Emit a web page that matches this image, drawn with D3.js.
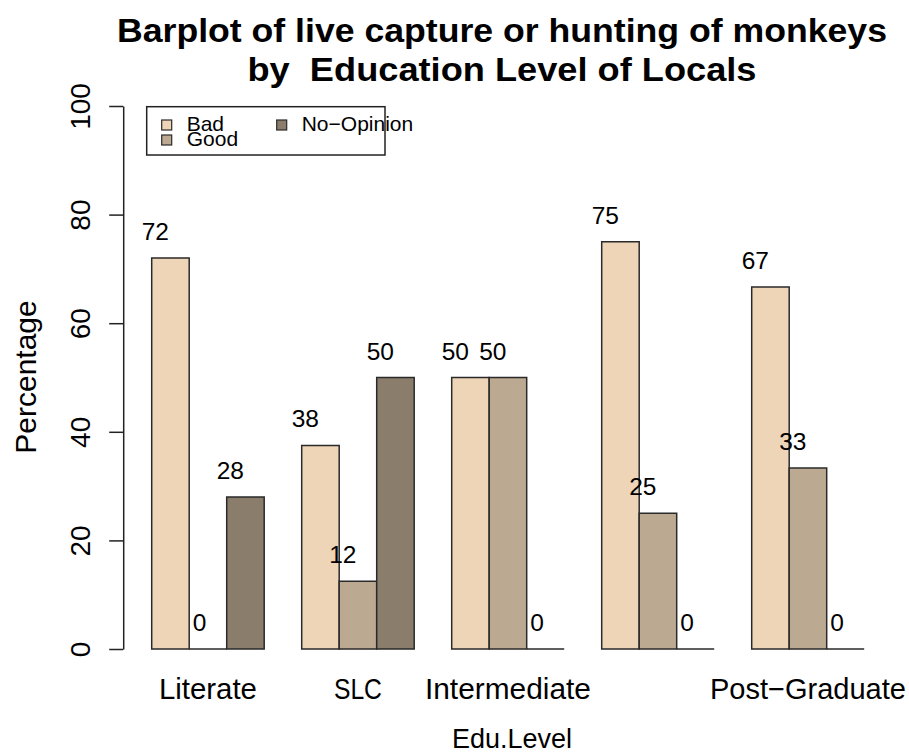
<!DOCTYPE html>
<meta charset="utf-8">
<script src="https://d3js.org/d3.v7.min.js"></script>
<style>
  body { margin: 0; background: #fff; }
  text { font-family: "Liberation Sans", Arial, Helvetica, sans-serif; fill: #000; }
</style>
<div id="my_dataviz"></div>
<script>

// data
var categories = ["Literate", "SLC", "Intermediate", "Graduate", "Post-Graduate"]
var tickLabels = ["Literate", "SLC", "Intermediate", "", "Post\u2212Graduate"]
var series = ["Bad", "Good", "No-Opinion"]
var seriesLabels = ["Bad", "Good", "No\u2212Opinion"]
var bad = [72, 37.5, 50, 75, 66.67]
var good = [0, 12.5, 50, 25, 33.33]
var noOpinion = [28, 50, 0, 0, 0]
var yTicks = [0, 20, 40, 60, 80, 100]
var colors = ["#EED5B7", "#BCA991", "#8B7D6B"]

var width = 909, height = 755

var svg = d3.select("#my_dataviz")
  .append("svg")
    .attr("width", width)
    .attr("height", height)

// scales
var x0 = d3.scaleBand()
  .domain(categories)
  .range([151.7, 864.2])
  .paddingInner(0.25)
  .paddingOuter(0)

var x1 = d3.scaleBand()
  .domain(series)
  .range([0, x0.bandwidth()])

var y = d3.scaleLinear()
  .domain([0, 100])
  .range([649, 106])

var color = d3.scaleOrdinal().domain(series).range(colors)

// R style rounding (half to even) for the labels
function roundEven(v) {
  var f = Math.floor(v), d = v - f
  if (Math.abs(d - 0.5) < 1e-9) return (f % 2 === 0) ? f : f + 1
  return Math.round(v)
}

var values = [bad, good, noOpinion]
var rows = []
categories.forEach(function(c, i) {
  series.forEach(function(s, j) {
    rows.push({cat: c, key: s, value: values[j][i]})
  })
})

// bars (paths so zero-height bars still draw their edge)
svg.append("g")
  .selectAll("path")
  .data(rows)
  .enter()
  .append("path")
    .attr("d", function(d) {
      var xl = x0(d.cat) + x1(d.key), w = x1.bandwidth()
      var yb = y(0), yt = y(d.value)
      return "M" + xl + "," + yb + "V" + yt + "H" + (xl + w) + "V" + yb + "Z"
    })
    .attr("fill", function(d) { return color(d.key) })
    .attr("stroke", "#2a2a2a")
    .attr("stroke-width", 1.5)

// value labels
svg.append("g")
  .selectAll("text")
  .data(rows)
  .enter()
  .append("text")
    .attr("x", function(d) { return x0(d.cat) + x1(d.key) + x1.bandwidth() / 2 - 1.5 })
    .attr("y", function(d) { return y(d.value) - 18 })
    .attr("text-anchor", "end")
    .style("font-size", "24.5px")
    .text(function(d) { return roundEven(d.value) })

// y axis
var yAxis = svg.append("g")
  .attr("transform", "translate(123.2,0)")
  .call(d3.axisLeft(y).tickValues(yTicks).tickSize(14).tickSizeOuter(0))

yAxis.select(".domain").attr("stroke", "#222").attr("stroke-width", 1.5)
yAxis.selectAll(".tick line").attr("stroke", "#222").attr("stroke-width", 1.5)
yAxis.selectAll(".tick text")
  .attr("x", -33)
  .attr("y", 0)
  .attr("dy", null)
  .attr("text-anchor", "middle")
  .attr("transform", "rotate(-90,-33,0)")
  .attr("fill", "#000")
  .style("font-size", "28px")
  .style("font-family", "'Liberation Sans', Arial, Helvetica, sans-serif")

// x tick labels
var tickWidths = [98, 48, 166, 0, 196]
svg.append("g")
  .selectAll("text")
  .data(categories)
  .enter()
  .append("text")
    .attr("x", function(d) { return x0(d) + x0.bandwidth() / 2 })
    .attr("y", 699)
    .attr("text-anchor", "middle")
    .style("font-size", function(d, i) { return i === 4 ? "29px" : "30px" })
    .attr("textLength", function(d, i) { return tickWidths[i] || null })
    .attr("lengthAdjust", "spacingAndGlyphs")
    .text(function(d, i) { return tickLabels[i] })

// axis titles
svg.append("text")
  .attr("x", 512).attr("y", 748)
  .attr("text-anchor", "middle")
  .attr("textLength", 120).attr("lengthAdjust", "spacingAndGlyphs")
  .style("font-size", "28px")
  .text("Edu.Level")

svg.append("text")
  .attr("transform", "translate(36,377) rotate(-90)")
  .attr("text-anchor", "middle")
  .style("font-size", "30px")
  .text("Percentage")

// title
svg.append("text")
  .attr("x", 502).attr("y", 42)
  .attr("text-anchor", "middle")
  .attr("font-weight", 700)
  .attr("textLength", 770).attr("lengthAdjust", "spacingAndGlyphs")
  .style("font-size", "34px")
  .text("Barplot of live capture or hunting of monkeys")

svg.append("text")
  .attr("x", 502).attr("y", 81)
  .attr("text-anchor", "middle")
  .attr("font-weight", 700)
  .attr("textLength", 509).attr("lengthAdjust", "spacingAndGlyphs")
  .style("font-size", "34px")
  .style("white-space", "pre")
  .text("by  Education Level of Locals")

// handmade legend
var legend = svg.append("g")
legend.append("rect")
  .attr("x", 146.7).attr("y", 106.7)
  .attr("width", 238.3).attr("height", 48.3)
  .attr("fill", "#fff").attr("stroke", "#222").attr("stroke-width", 1.5)

var legPos = [[161.7, 120], [161.7, 135], [276.7, 120]]
series.forEach(function(s, i) {
  legend.append("rect")
    .attr("x", legPos[i][0]).attr("y", legPos[i][1])
    .attr("width", 10).attr("height", 10)
    .attr("fill", color(s)).attr("stroke", "#2a2a2a").attr("stroke-width", 1.2)
  legend.append("text")
    .attr("x", legPos[i][0] + 25).attr("y", legPos[i][1] + 11)
    .style("font-size", "21px")
    .text(seriesLabels[i])
})

</script>
